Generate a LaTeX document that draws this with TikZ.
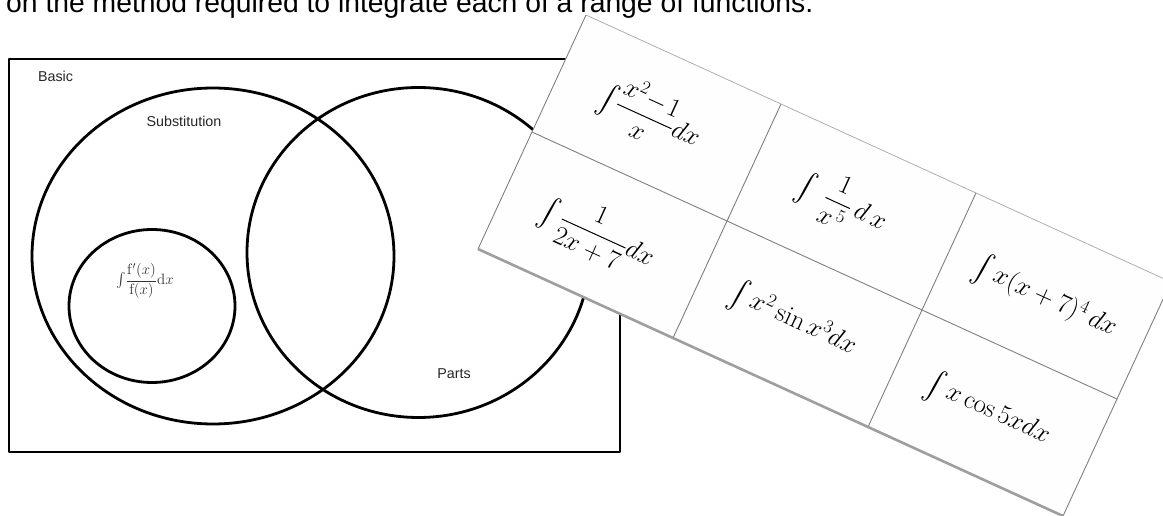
\RequirePackage{fix-cm}
\documentclass[tikz,border=0pt]{standalone}
\usepackage{amsmath}
\usepackage{graphicx}
\usepackage[no-math]{fontspec}
\setmainfont{Liberation Sans}
\usetikzlibrary{shapes.geometric}
\definecolor{cardfill}{HTML}{FEFEFE}
\newcommand{\bigint}{\mathop{\vcenter{\hbox{\scalebox{1.05}[1.3]{$\int$}}}}\nolimits}
\tikzset{
  venn/.style={draw=black, line width=2.8pt, fill=none, inner sep=0pt, outer sep=0pt},
  vennell/.style={venn, ellipse},
  lab/.style={font=\fontsize{14.3}{16}\selectfont, text=black!85, inner sep=0pt},
  formula/.style={rotate=-24.5, font=\fontsize{26.5}{32}\selectfont, inner sep=0pt},
  gridline/.style={draw=black!50, line width=0.9pt},
  edgelight/.style={draw=black!35, line width=0.7pt},
  edgeshadow/.style={draw=black!38, line width=2.6pt}
}
\begin{document}
\begin{tikzpicture}[x=1pt,y=-1pt,line join=round]
\useasboundingbox (0,0) rectangle (1163,516);
\clip (0,0) rectangle (1163,516);

% heading (cut off at top)
\node[anchor=base west, inner sep=0pt, font=\fontsize{28.3}{32}\selectfont] (title) at (6,12.5)
  {on the method required to integrate each of a range of functions.};

% Venn diagram
\node[venn, rectangle, minimum width=611pt, minimum height=393pt] (basic) at (314.5,255.5) {};
\node[vennell, minimum width=362pt, minimum height=336pt] (subst) at (213,256) {};
\node[vennell, minimum width=343pt, minimum height=330pt] (parts) at (418.5,252.5) {};
\node[vennell, minimum width=166pt, minimum height=153pt] (fdash) at (152,306) {};

\node[lab] (basiclab) at (55.5,76) {Basic};
\node[lab] (substlab) at (184,121) {Substitution};
\node[lab] (partslab) at (454,374) {Parts};
\node[inner sep=0pt, text=black!80, font=\fontsize{15}{18}\selectfont] (fdashlab) at (145,281)
  {$\int\!\dfrac{\mathrm{f}'(x)}{\mathrm{f}(x)}\mathrm{d}x$};

% card of integrals
\coordinate (a0) at (586,15);   \coordinate (a1) at (781,104);
\coordinate (a2) at (976,193);  \coordinate (a3) at (1171,282);
\coordinate (b0) at (532,132);  \coordinate (b1) at (727,221);
\coordinate (b2) at (922,310);  \coordinate (b3) at (1117,399);
\coordinate (c0) at (478,249);  \coordinate (c1) at (673,338);
\coordinate (c2) at (868,427);  \coordinate (c3) at (1063,516);

\path[fill=cardfill] (a0) -- (a3) -- (c3) -- (c0) -- cycle;
\draw[gridline] (b0) -- (b3);
\draw[gridline] (a1) -- (c1);
\draw[gridline] (a2) -- (c2);
\draw[edgelight] (a0) -- (a3);
\draw[gridline] (a0) -- (c0);
\draw[gridline] (a3) -- (c3);
\draw[edgeshadow] (c0) -- (c3);

\node[formula] (f11) at (651,115) {$\bigint\!\dfrac{x^2\!-\!1}{x}dx$};
\node[formula] (f21) at (842,203) {$\bigint\;\dfrac{1}{x^{\,5}}\,d\,x$};
\node[formula] (f31) at (1045,298) {$\bigint x(x+7)^4\,dx$};
\node[formula] (f12) at (597,234) {$\bigint\dfrac{1}{2x+7}dx$};
\node[formula] (f22) at (793,320) {$\bigint x^2\sin x^3dx$};
\node[formula] (f32) at (988,410) {$\bigint x\cos 5x dx$};
\end{tikzpicture}
\end{document}
